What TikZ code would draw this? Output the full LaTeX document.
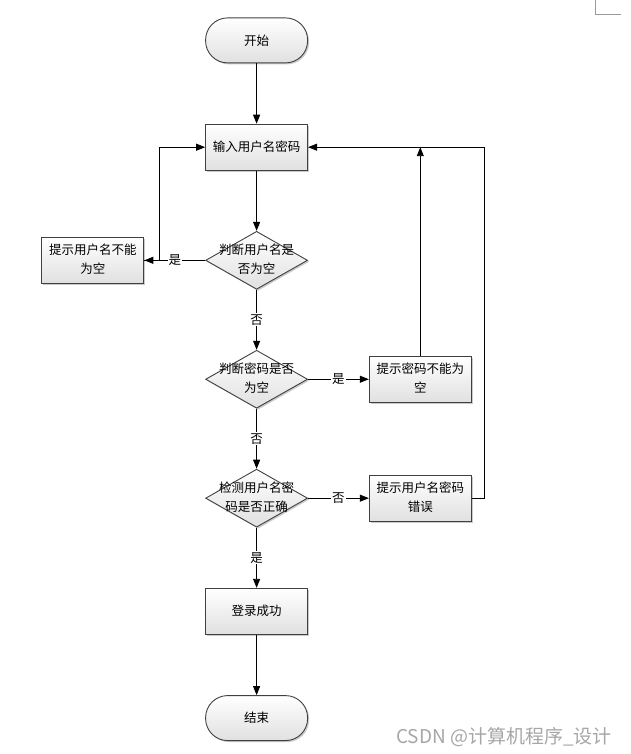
\documentclass[tikz,border=0pt]{standalone}
\usepackage{fontspec}
\setmainfont{Noto Sans CJK SC}
\usetikzlibrary{matrix,shapes.geometric,arrows.meta,shadows}

\newcommand{\twolines}[2]{\begin{tabular}{@{}c@{}}#1\\#2\end{tabular}}

\begin{document}
\begin{tikzpicture}[x=1pt,y=-1pt,>={Triangle[length=9pt,width=7pt]},
    font=\fontsize{12.5}{19}\selectfont,
    line width=0.9pt,
    look/.style={draw=black!75, top color=white, bottom color=black!12,
        drop shadow={shadow xshift=1.5pt, shadow yshift=-1.5pt, fill=black!35, opacity=0.6}},
    term/.style={look, rectangle, rounded corners=22pt, minimum width=102pt, minimum height=45pt},
    box/.style={look, rectangle, minimum width=102pt, minimum height=46pt, inner sep=0pt},
    decision/.style={look, diamond, minimum width=102pt, minimum height=58pt, inner sep=0pt,
        label={center:#1}},
    yesno/.style={midway, fill=white, inner sep=1pt},
]
    \useasboundingbox (0,0) rectangle (630,754);
    \draw[black!40, line width=0.6pt] (595,0) -- (595,14) -- (621,14);
    \matrix (flow) [
        matrix of nodes,
        anchor=north west,
        inner sep=0pt,
        column sep=60.8pt,
        row sep=60.4pt,
        nodes={anchor=center},
    ] at (41,17)
    {  & |[term]| 开始 &  \\
       & |[box]| 输入用户名密码 &  \\
    |[box]| \twolines{提示用户名不能}{为空} & |[decision={\twolines{判断用户名是}{否为空}}]| &  \\
       & |[decision={\twolines{判断密码是否}{为空}}]| & |[box]| \twolines{提示密码不能为}{空} \\
       & |[decision={\twolines{检测用户名密}{码是否正确}}]| & |[box]| \twolines{提示用户名密码}{错误} \\
       & |[box]| 登录成功 &  \\
       & |[term]| 结束 &  \\
    };
    \draw[->] (flow-1-2) -- (flow-2-2);
    \draw[->] (flow-2-2) -- (flow-3-2);
    \draw[->] (flow-3-2) -- (flow-3-1) node [yesno] {是};
    \draw[->] (flow-3-1.east) -- ++(15,0) |- (flow-2-2);
    \draw[->] (flow-3-2) -- (flow-4-2) node [yesno] {否};
    \draw[->] (flow-4-2) -- (flow-4-3) node [yesno] {是};
    \draw[->] (flow-4-3) -- (flow-4-3 |- flow-2-2);
    \draw[->] (flow-4-2) -- (flow-5-2) node [yesno] {否};
    \draw[->] (flow-5-2) -- (flow-5-3) node [yesno] {否};
    \draw[->] (flow-5-3.east) -- ++(13,0) |- (flow-2-2);
    \draw[->] (flow-5-2) -- (flow-6-2) node [yesno] {是};
    \draw[->] (flow-6-2) -- (flow-7-2);
    \node[text=black!35, font=\fontsize{19}{21}\selectfont] (mark) at (504,737) {CSDN @计算机程序\_设计};
\end{tikzpicture}
\end{document}
